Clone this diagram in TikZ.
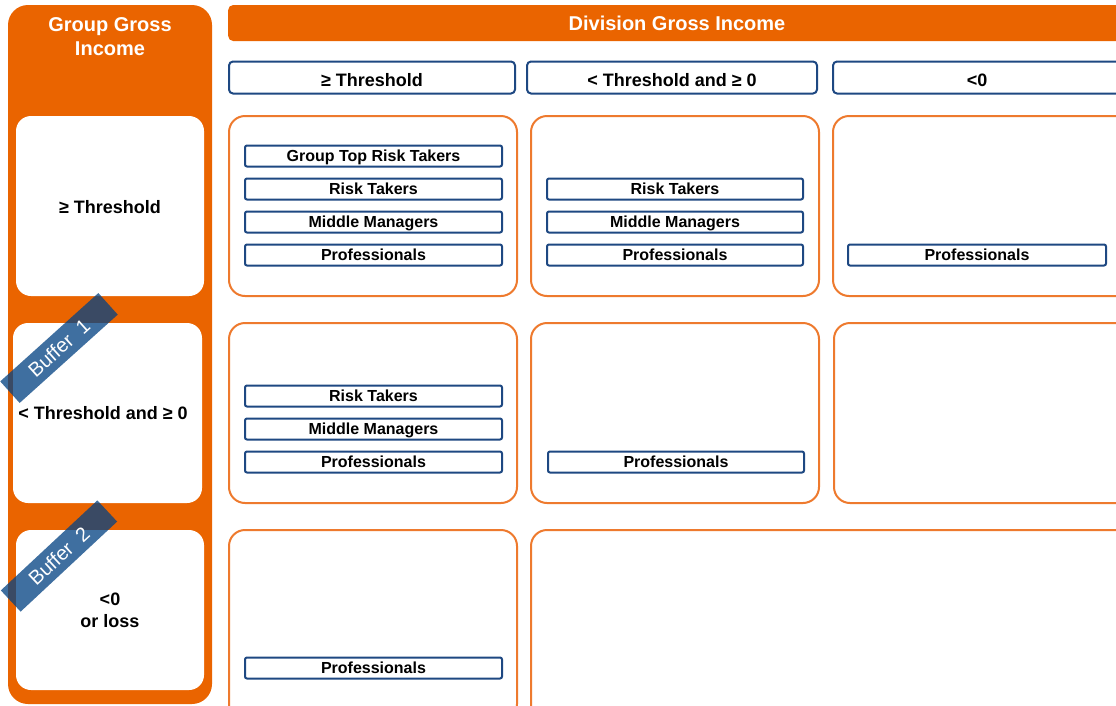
\documentclass[tikz,border=0pt]{standalone}
\usepackage{fontspec}
\setmainfont{Liberation Sans}
\definecolor{org}{RGB}{234,100,0}
\definecolor{orgline}{RGB}{238,122,46}
\definecolor{navy}{RGB}{30,72,130}
\definecolor{ribbon}{RGB}{4,67,131}
\begin{document}
\begin{tikzpicture}[x=1pt,y=-1pt,
  colhead/.style={draw=navy,line width=2pt,rounded corners=4pt,fill=white,inner sep=0pt,outer sep=0pt,minimum height=32pt},
  headtxt/.style={font=\bfseries\fontsize{18}{20}\selectfont},
  cell/.style={draw=orgline,line width=2pt,rounded corners=16pt,fill=white,inner sep=0pt,outer sep=0pt},
  role/.style={draw=navy,line width=2pt,rounded corners=2pt,fill=white,inner sep=0pt,outer sep=0pt,minimum height=21pt,text height=11.5pt,text depth=0pt,font=\bfseries\fontsize{16}{18}\selectfont},
  rowbox/.style={fill=white,rounded corners=15pt,inner sep=0pt,outer sep=0pt,minimum width=188pt,minimum height=180pt},
  rowlab/.style={font=\bfseries\fontsize{18}{22}\selectfont,align=center},
  buffer/.style={fill=ribbon,fill opacity=0.765,text opacity=1,text=white,minimum width=132pt,minimum height=29pt,inner sep=0pt,font=\fontsize{20}{22}\selectfont}
]
\useasboundingbox (0,0) rectangle (1116,705);
\clip (0,0) rectangle (1116,705);
\fill[white] (0,0) rectangle (1116,705);
% left column
\node[fill=org,rounded corners=20pt,minimum width=204pt,minimum height=699pt,inner sep=0pt] (gcol) at (110,354.5) {};
\node[text=white,font=\bfseries\fontsize{20}{24}\selectfont,align=center] (gtitle) at (110,37) {Group Gross\\Income};
\node[rowbox] (r1) at (110,206) {};
\node[rowbox,minimum width=189pt] (r2) at (107.5,413) {};
\node[rowbox,minimum height=160pt] (r3) at (110,610) {};
\node[rowlab] (r1l) at (110,207) {≥ Threshold};
\node[rowlab] (r2l) at (103,413) {< Threshold and ≥ 0};
\node[rowlab] (r3l) at (110,610) {<0\\or loss};
% division header
\node[fill=org,rounded corners=5pt,minimum width=900pt,minimum height=36pt,inner sep=0pt,anchor=west] (dhead) at (228,23) {};
\node[text=white,font=\bfseries\fontsize{20}{22}\selectfont] (dtitle) at (677,23) {Division Gross Income};
% column headers
\node[colhead,minimum width=286pt] (c1) at (372,77.5) {};
\node[colhead,minimum width=290pt] (c2) at (672,77.5) {};
\node[colhead,minimum width=300pt,anchor=west] (c3) at (833,77.5) {};
\node[headtxt] (c1l) at (372,80) {≥ Threshold};
\node[headtxt] (c2l) at (672,80) {< Threshold and ≥ 0};
\node[headtxt] (c3l) at (977,80.5) {<0};
% cells
\node[cell,minimum width=288pt,minimum height=180pt] (a1) at (373,206) {};
\node[cell,minimum width=288pt,minimum height=180pt] (b1) at (675,206) {};
\node[cell,minimum width=300pt,minimum height=180pt,anchor=west] (cc1) at (833,206) {};
\node[cell,minimum width=288pt,minimum height=180pt] (a2) at (373,413) {};
\node[cell,minimum width=288pt,minimum height=180pt] (b2) at (675,413) {};
\node[cell,minimum width=300pt,minimum height=180pt,anchor=west] (cc2) at (834,413) {};
\node[cell,minimum width=288pt,minimum height=190pt,anchor=north] (a3) at (373,530) {};
\node[cell,minimum width=600pt,minimum height=190pt,anchor=north west] (b3) at (531,530) {};
% roles row 1
\node[role,minimum width=257pt] (a1g) at (373.5,156) {Group Top Risk Takers};
\node[role,minimum width=257pt] (a1r) at (373.5,189) {Risk Takers};
\node[role,minimum width=257pt] (a1m) at (373.5,222) {Middle Managers};
\node[role,minimum width=257pt] (a1p) at (373.5,255) {Professionals};
\node[role,minimum width=256pt] (b1r) at (675,189) {Risk Takers};
\node[role,minimum width=256pt] (b1m) at (675,222) {Middle Managers};
\node[role,minimum width=256pt] (b1p) at (675,255) {Professionals};
\node[role,minimum width=258pt] (c1p) at (977,255) {Professionals};
% roles row 2
\node[role,minimum width=257pt] (a2r) at (373.5,396) {Risk Takers};
\node[role,minimum width=257pt] (a2m) at (373.5,429) {Middle Managers};
\node[role,minimum width=257pt] (a2p) at (373.5,462) {Professionals};
\node[role,minimum width=256pt] (b2p) at (676,462) {Professionals};
% roles row 3
\node[role,minimum width=257pt] (a3p) at (373.5,668) {Professionals};
% buffers
\node[buffer,rotate=42] (buf1) at (59,348) {Buffer\ \ 1};
\node[buffer,rotate=43] (buf2) at (59,556) {Buffer\ \ 2};
\end{tikzpicture}
\end{document}
